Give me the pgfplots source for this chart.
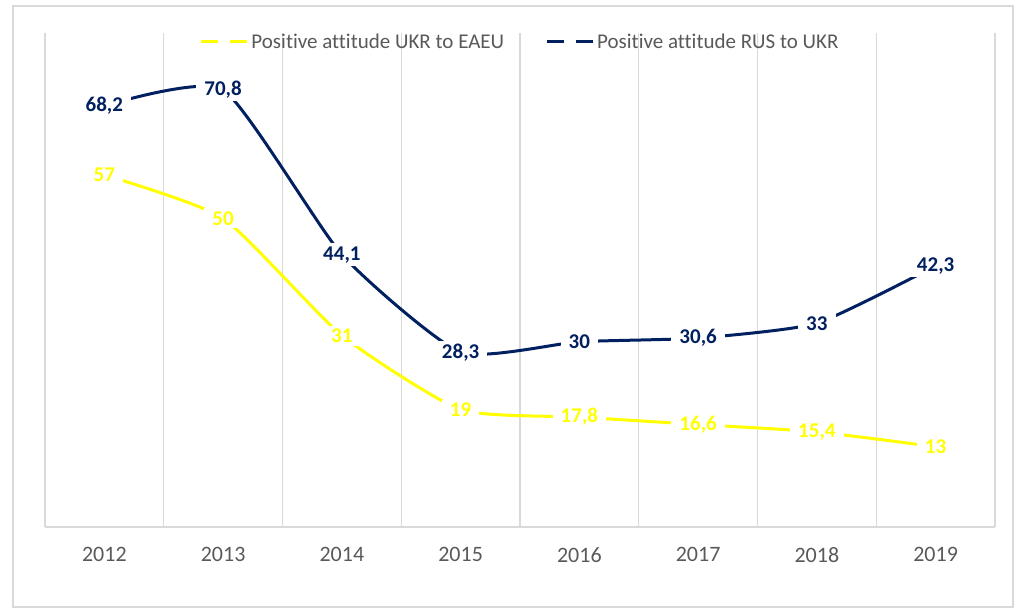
\documentclass[border=0pt]{standalone}
\usepackage{fontspec}
\setmainfont{Carlito}[Ligatures=NoCommon]
\usepackage{pgfplots}
\pgfplotsset{compat=1.18}
\definecolor{ukr}{HTML}{FFFF00}
\definecolor{rus}{HTML}{002060}
\definecolor{gridc}{HTML}{D9D9D9}
\definecolor{txt}{HTML}{595959}
\begin{document}
\begin{tikzpicture}
\useasboundingbox (-45pt,-88pt) rectangle (979pt,527pt);
\draw[gridc, line width=1.5pt] (-32pt,-80pt) rectangle (968pt,521pt);
\begin{axis}[
  at={(0pt,0pt)}, anchor=south west,
  scale only axis, width=950pt, height=494pt,
  xmin=-0.5, xmax=7.5, ymin=0, ymax=80,
  axis x line*=bottom, axis y line=none,
  x axis line style={-, draw=gridc, line width=1.5pt},
  xtick={0,1,2,3,4,5,6,7},
  xticklabels={2012,2013,2014,2015,2016,2017,2018,2019},
  major tick length=0pt, minor tick length=0pt,
  minor xtick={-0.5,0.5,1.5,2.5,3.5,4.5,5.5,6.5,7.5},
  xminorgrids, minor grid style={gridc, line width=1.2pt},
  /pgf/number format/assume math mode=true,
  xticklabel style={font=\fontsize{22}{22}\selectfont, text=txt, inner sep=0pt, anchor=north, yshift=-20pt},
  legend style={at={(0.5,0.982)}, anchor=center, draw=none, fill=none,
    legend columns=2, font=\fontsize{21}{21}\selectfont, text=txt,
    /tikz/every even column/.append style={column sep=40pt},
    nodes={inner sep=1.5pt}},
  legend image code/.code={\draw[#1, solid, line width=3pt, dash pattern=on 17pt off 12pt] (-4pt,0pt) -- (43pt,0pt);},
  nodes near coords={\pgfmathprintnumber[use comma,fixed,precision=1]{\pgfplotspointmeta}},
  nodes near coords align={center},
]
\addplot[ukr, line width=3pt, smooth, tension=0.33,
  every node near coord/.append style={anchor=center, fill=white, inner xsep=8pt, inner ysep=3pt, text=ukr, font=\bfseries\fontsize{21}{21}\selectfont}]
  coordinates {(0,57) (1,50) (2,31) (3,19) (4,17.8) (5,16.6) (6,15.4) (7,13)};
\addlegendentry{Positive attitude UKR to EAEU}
\addplot[rus, line width=3pt, smooth, tension=0.33,
  every node near coord/.append style={anchor=center, fill=white, inner xsep=8pt, inner ysep=3pt, text=rus, font=\bfseries\fontsize{21}{21}\selectfont}]
  coordinates {(0,68.2) (1,70.8) (2,44.1) (3,28.3) (4,30) (5,30.6) (6,33) (7,42.3)};
\addlegendentry{Positive attitude RUS to UKR}
\end{axis}
\end{tikzpicture}
\end{document}
